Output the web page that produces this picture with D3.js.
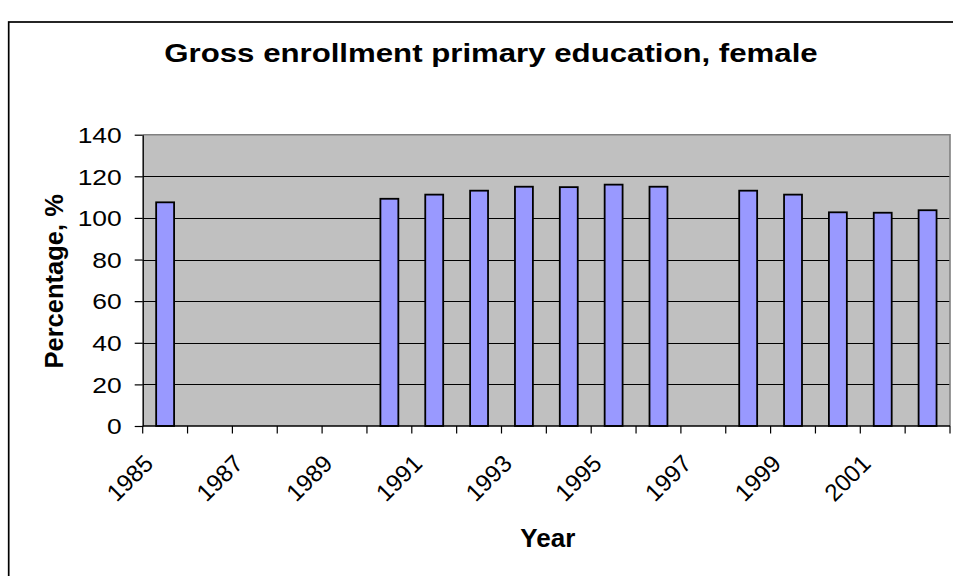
<!DOCTYPE html>
<html>
<head>
<meta charset="utf-8">
<script src="https://cdn.jsdelivr.net/npm/d3@7"></script>
<style>
  body { margin: 0; background: #fff; }
  svg { display: block; }
  text { font-family: Arial, "Liberation Sans", sans-serif; fill: #000; }
</style>
</head>
<body>
<svg id="chart" width="953" height="576"></svg>
<script>
// Gross enrollment ratio, primary education, female (%)
const years = [1985, 1986, 1987, 1988, 1989, 1990, 1991, 1992, 1993,
               1994, 1995, 1996, 1997, 1998, 1999, 2000, 2001, 2002];
const enrollment = [107.5, null, null, null, null, 109.2, 111.2, 113.1, 115.0,
                    114.8, 116.0, 115.0, null, 113.1, 111.2, 102.7, 102.5, 103.7];
const yTicks = [0, 20, 40, 60, 80, 100, 120, 140];
const labelledYears = [1985, 1987, 1989, 1991, 1993, 1995, 1997, 1999, 2001];

const titleText = "Gross enrollment primary education, female";
const xTitleText = "Year";
const yTitleText = "Percentage, %";

const svg = d3.select("#chart");
const plot = { left: 142.7, right: 950, top: 134.7, bottom: 426 };

// outer chart frame
svg.append("rect")
  .attr("x", 8.7).attr("y", 22)
  .attr("width", 1000).attr("height", 700)
  .attr("fill", "#fff").attr("stroke", "#000").attr("stroke-width", 1.7);

const x = d3.scaleBand()
  .domain(years)
  .range([plot.left, plot.right])
  .paddingInner(0.6)
  .paddingOuter(0.3);

const y = d3.scaleLinear()
  .domain([0, 140])
  .range([plot.bottom, plot.top]);

// plot area background
svg.append("rect")
  .attr("x", plot.left).attr("y", plot.top)
  .attr("width", plot.right - plot.left).attr("height", plot.bottom - plot.top)
  .attr("fill", "#c0c0c0");

// horizontal gridlines
svg.append("g")
  .selectAll("line")
  .data(yTicks.filter(v => v > 0 && v < 140))
  .join("line")
  .attr("x1", plot.left).attr("x2", plot.right)
  .attr("y1", d => Math.round(y(d)) + 0.5).attr("y2", d => Math.round(y(d)) + 0.5)
  .attr("stroke", "#000").attr("stroke-width", 1);

// plot area border (top and right)
svg.append("path")
  .attr("d", `M${plot.left},${plot.top}H${plot.right}V${plot.bottom}`)
  .attr("fill", "none").attr("stroke", "#808080").attr("stroke-width", 1.6);

// bars
svg.append("g")
  .selectAll("rect")
  .data(years.map((yr, i) => ({ yr, v: enrollment[i] })).filter(d => d.v != null))
  .join("rect")
  .attr("x", d => x(d.yr))
  .attr("y", d => y(d.v))
  .attr("width", x.bandwidth())
  .attr("height", d => y(0) - y(d.v))
  .attr("fill", "#9999ff")
  .attr("stroke", "#000")
  .attr("stroke-width", 1.8);

// y axis
const yAxis = svg.append("g")
  .attr("transform", `translate(${plot.left},0)`)
  .call(d3.axisLeft(y).tickValues(yTicks).tickSize(8).tickSizeOuter(0).tickFormat(d3.format("d")));
yAxis.select(".domain").attr("stroke", "#000").attr("stroke-width", 1.4);
yAxis.selectAll(".tick line").attr("stroke", "#000").attr("stroke-width", 1.2);
yAxis.selectAll(".tick text")
  .attr("x", null).attr("dy", null)
  .attr("font-size", 22)
  .attr("text-anchor", "end")
  .attr("dominant-baseline", "central")
  .attr("transform", "translate(-21,0) scale(1.2,1)");

// x axis: ticks on category boundaries
const step = x.step();
const boundaries = d3.range(years.length + 1).map(i => plot.left + i * step);
svg.append("line")
  .attr("x1", plot.left).attr("x2", plot.right)
  .attr("y1", plot.bottom).attr("y2", plot.bottom)
  .attr("stroke", "#000").attr("stroke-width", 1.6);
svg.append("g")
  .selectAll("line")
  .data(boundaries)
  .join("line")
  .attr("x1", d => d).attr("x2", d => d)
  .attr("y1", plot.bottom).attr("y2", plot.bottom + 7.5)
  .attr("stroke", "#000").attr("stroke-width", 1.2);

// rotated year labels
svg.append("g")
  .selectAll("text")
  .data(labelledYears)
  .join("text")
  .attr("transform", d => `translate(${x(d) + x.bandwidth() / 2 - 10.5},465) rotate(-45)`)
  .attr("text-anchor", "end")
  .attr("font-size", 24)
  .text(d => d);

// titles
svg.append("text")
  .attr("transform", "translate(491,61.5) scale(1.2,1)")
  .attr("text-anchor", "middle")
  .attr("font-size", 26)
  .attr("font-weight", "bold")
  .text(titleText);

svg.append("text")
  .attr("x", (plot.left + plot.right) / 2 + 1.5)
  .attr("y", 547)
  .attr("text-anchor", "middle")
  .attr("font-size", 26)
  .attr("font-weight", "bold")
  .text(xTitleText);

svg.append("text")
  .attr("transform", `translate(62.5,${(plot.top + plot.bottom) / 2 + 1}) rotate(-90)`)
  .attr("text-anchor", "middle")
  .attr("font-size", 25.5)
  .attr("font-weight", "bold")
  .text(yTitleText);
</script>
</body>
</html>
